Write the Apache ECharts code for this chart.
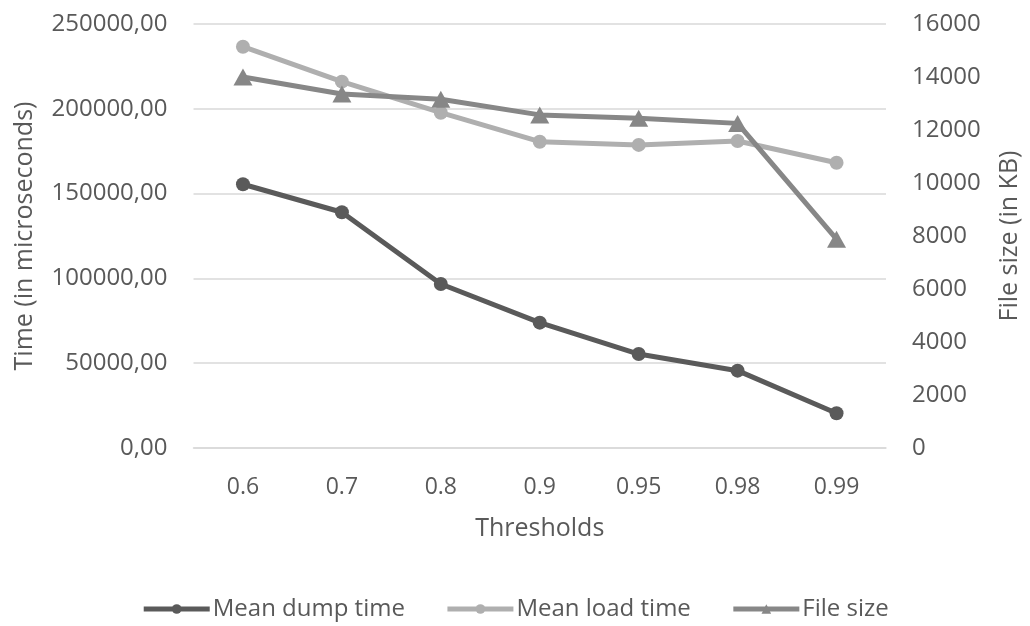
<!DOCTYPE html>
<html>
<head>
<meta charset="utf-8">
<script src="https://cdn.jsdelivr.net/npm/echarts@6/dist/echarts.min.js"></script>
<style>html,body{margin:0;padding:0;background:#fff}#c{width:1030px;height:626px}</style>
</head>
<body>
<div id="c"></div>
<script>
const categories = ['0.6', '0.7', '0.8', '0.9', '0.95', '0.98', '0.99'];
const meanDumpTime = [155500, 139000, 96700, 73900, 55400, 45600, 20500];
const meanLoadTime = [236600, 216000, 197700, 180600, 178700, 181000, 168200];
const fileSize = [14000, 13360, 13160, 12570, 12440, 12250, 7880];
const seriesNames = ['Mean dump time', 'Mean load time', 'File size'];

const textColor = '#595959';
const font = 'Open Sans';
const chart = echarts.init(document.getElementById('c'));
chart.setOption({
  animation: false,
  backgroundColor: '#fff',
  textStyle: { fontFamily: font, color: textColor },
  grid: { left: 193.5, right: 143.5, top: 24, bottom: 178, containLabel: false },
  legend: {
    bottom: 0,
    left: 'center',
    itemWidth: 66,
    itemHeight: 12,
    itemGap: 40,
    lineStyle: { width: 5 },
    textStyle: { fontFamily: font, fontSize: 24, color: textColor, padding: [0, 0, 0, -2] },
    data: seriesNames
  },
  xAxis: {
    type: 'category',
    data: categories,
    name: 'Thresholds',
    nameLocation: 'middle',
    nameGap: 68,
    nameTextStyle: { fontSize: 25, color: textColor },
    axisLine: { lineStyle: { color: '#d9d9d9', width: 1.5 } },
    axisTick: { show: false },
    axisLabel: { fontSize: 23, color: textColor, margin: 28 }
  },
  yAxis: [{
    type: 'value',
    min: 0, max: 250000, interval: 50000,
    name: 'Time (in microseconds)',
    nameLocation: 'middle',
    nameGap: 156,
    nameTextStyle: { fontSize: 25, color: textColor },
    axisLine: { show: false },
    axisTick: { show: false },
    splitLine: { lineStyle: { color: '#d9d9d9', width: 1.5 } },
    axisLabel: { fontSize: 24, color: textColor, margin: 26,
      formatter: v => v.toFixed(2).replace('.', ',') }
  }, {
    type: 'value',
    min: 0, max: 16000, interval: 2000,
    name: 'File size (in KB)',
    nameLocation: 'middle',
    nameGap: 111,
    nameTextStyle: { fontSize: 25, color: textColor, padding: [0, 0, 0, 0] },
    axisLine: { show: false },
    axisTick: { show: false },
    splitLine: { show: false },
    axisLabel: { fontSize: 24, color: textColor, margin: 26, formatter: v => String(v) }
  }],
  series: [{
    name: seriesNames[0], type: 'line', data: meanDumpTime, yAxisIndex: 0,
    symbol: 'circle', symbolSize: 14,
    lineStyle: { width: 5, color: '#5a5a5a' },
    itemStyle: { color: '#5a5a5a' }
  }, {
    name: seriesNames[1], type: 'line', data: meanLoadTime, yAxisIndex: 0,
    symbol: 'circle', symbolSize: 14,
    lineStyle: { width: 5, color: '#afafaf' },
    itemStyle: { color: '#afafaf' }
  }, {
    name: seriesNames[2], type: 'line', data: fileSize, yAxisIndex: 1,
    symbol: 'triangle', symbolSize: [19, 17],
    lineStyle: { width: 5, color: '#878787' },
    itemStyle: { color: '#878787' }
  }]
});
</script>
</body>
</html>
